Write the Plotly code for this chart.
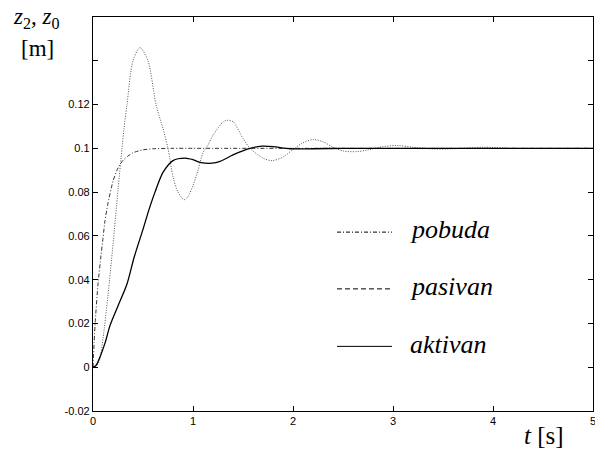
import plotly.graph_objects as go

# ---- data ----
t_pobuda = [0, 0.02, 0.05, 0.08, 0.10, 0.12, 0.15, 0.20, 0.25, 0.30, 0.35, 0.40, 0.50, 0.60, 0.80, 1.0, 2.0, 3.0, 4.0, 5.0]
z_pobuda = [0, 0.019, 0.038, 0.051, 0.059, 0.067, 0.075, 0.085, 0.091, 0.0945, 0.0965, 0.098, 0.0993, 0.0998, 0.1, 0.1, 0.1, 0.1, 0.1, 0.1]

t_pasivan = [0, 0.03, 0.05, 0.07, 0.10, 0.15, 0.20, 0.25, 0.29, 0.31, 0.34, 0.40, 0.47, 0.55, 0.63, 0.70, 0.75,
             0.80, 0.85, 0.91, 0.95, 1.00, 1.05, 1.10, 1.15, 1.20, 1.30, 1.34, 1.40, 1.50, 1.57, 1.70, 1.79,
             1.90, 2.00, 2.10, 2.20, 2.30, 2.40, 2.50, 2.64, 2.75, 2.90, 3.05, 3.20, 3.40, 3.60, 3.90, 4.20, 4.60, 5.0]
z_pasivan = [0, 0.0005, 0.0015, 0.004, 0.013, 0.033, 0.056, 0.081, 0.100, 0.109, 0.120, 0.140, 0.146, 0.140, 0.120, 0.109, 0.100,
             0.087, 0.080, 0.0765, 0.078, 0.083, 0.090, 0.098, 0.1015, 0.106, 0.112, 0.1128, 0.1122, 0.1045, 0.100, 0.0955, 0.0944,
             0.096, 0.0995, 0.1025, 0.104, 0.103, 0.1005, 0.0988, 0.0985, 0.0993, 0.1008, 0.1013, 0.1005, 0.0997, 0.0998, 0.1005, 0.1, 0.1, 0.1]

t_aktivan = [0, 0.03, 0.07, 0.12, 0.17, 0.25, 0.34, 0.41, 0.50, 0.56, 0.62, 0.70, 0.80, 0.92, 1.00, 1.07, 1.19, 1.27,
             1.40, 1.57, 1.69, 1.80, 1.97, 2.20, 2.50, 3.0, 3.5, 4.0, 5.0]
z_aktivan = [0, 0.0008, 0.0047, 0.011, 0.019, 0.028, 0.038, 0.050, 0.063, 0.072, 0.080, 0.089, 0.0944, 0.0955, 0.0948, 0.0936, 0.0932, 0.094,
             0.097, 0.100, 0.101, 0.1008, 0.0998, 0.0998, 0.1, 0.1, 0.1, 0.1, 0.1]

y_tickvals = [-0.02, 0, 0.02, 0.04, 0.06, 0.08, 0.1, 0.12, 0.14]
y_ticktext = ["-0.02", "0", "0.02", "0.04", "0.06", "0.08", "0.1", "0.12", ""]
x_tickvals = [0, 1, 2, 3, 4, 5]
legend_names = ["pobuda", "pasivan", "aktivan"]

fig = go.Figure()
fig.add_trace(go.Scatter(x=t_pobuda, y=z_pobuda, mode="lines", name="pobuda",
                         line=dict(color="#333333", width=1, dash="4px,2px,1px,2px", shape="spline", smoothing=0.6)))
fig.add_trace(go.Scatter(x=t_pasivan, y=z_pasivan, mode="lines", name="pasivan",
                         line=dict(color="#555555", width=1, dash="1px,1.5px", shape="spline", smoothing=0.8)))
fig.add_trace(go.Scatter(x=t_aktivan, y=z_aktivan, mode="lines", name="aktivan",
                         line=dict(color="black", width=1.3, shape="spline", smoothing=0.8)))

axis_common = dict(showgrid=False, zeroline=False, showline=True, linecolor="black", linewidth=1.3,
                   mirror="ticks", ticks="inside", ticklen=5, tickcolor="black", tickwidth=1,
                   ticklabeloverflow="allow", automargin=False,
                   tickfont=dict(family="Liberation Sans, Arial", size=11, color="black"))

fig.update_layout(
    width=595, height=452, showlegend=False,
    paper_bgcolor="white", plot_bgcolor="white",
    margin=dict(l=93, r=2, t=17, b=41),
    xaxis=dict(range=[0, 5], tickvals=x_tickvals, **axis_common),
    yaxis=dict(range=[-0.02, 0.16], tickvals=y_tickvals, ticktext=y_ticktext, **axis_common),
)

# legend drawn manually (line samples + italic labels)
dashes = ["4px,2px,1px,2px", "5px,3px", "solid"]
leg_y = [0.454, 0.31, 0.164]
for name, d, yy in zip(legend_names, dashes, leg_y):
    fig.add_shape(type="line", xref="paper", yref="paper", x0=0.488, x1=0.598, y0=yy, y1=yy,
                  line=dict(color="black", width=1, dash=d))
    fig.add_annotation(xref="paper", yref="paper", x=0.63, y=yy + 0.006, text="<i>%s</i>" % name,
                       showarrow=False, xanchor="left", yanchor="middle",
                       font=dict(family="Liberation Serif, Times New Roman", size=26, color="black"))

# axis titles
fig.add_annotation(xref="paper", yref="paper", x=-0.114, y=0.997, xanchor="center", yanchor="middle",
                   text="<i>z</i><sub>2</sub>, <i>z</i><sub>0</sub>", showarrow=False,
                   font=dict(family="Liberation Serif, Times New Roman", size=23, color="black"))
fig.add_annotation(xref="paper", yref="paper", x=-0.112, y=0.921, xanchor="center", yanchor="middle",
                   text="[m]", showarrow=False,
                   font=dict(family="Liberation Serif, Times New Roman", size=23, color="black"))
fig.add_annotation(xref="paper", yref="paper", x=0.902, y=-0.062, xanchor="center", yanchor="middle",
                   text="<i>t</i> [s]", showarrow=False,
                   font=dict(family="Liberation Serif, Times New Roman", size=25, color="black"))

fig.write_html("out.html", config={"displayModeBar": False},
               post_script="document.body.style.margin='0';document.body.style.overflow='hidden';")
